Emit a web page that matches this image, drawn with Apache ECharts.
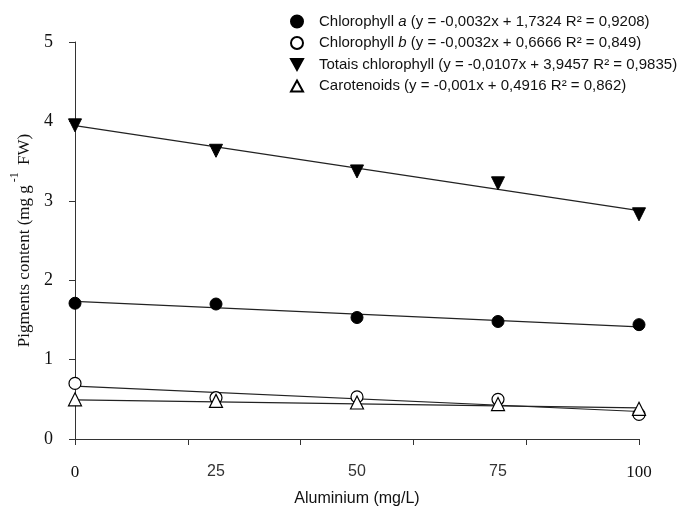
<!DOCTYPE html>
<html><head><meta charset="utf-8">
<script src="https://cdn.jsdelivr.net/npm/echarts@6/dist/echarts.min.js"></script>
<style>html,body{margin:0;padding:0;background:#fff}#c{width:684px;height:512px}</style>
</head><body><div id="c"></div>
<script>
var xValues = [0, 25, 50, 75, 100];
var chlA = [1.71, 1.70, 1.53, 1.48, 1.44];
var chlB = [0.70, 0.52, 0.53, 0.50, 0.31];
var totalChl = [3.95, 3.63, 3.37, 3.22, 2.83];
var carot = [0.50, 0.48, 0.46, 0.44, 0.38];
var seriesNames = ['Chlorophyll a', 'Chlorophyll b', 'Totais chlorophyll', 'Carotenoids'];
var equations = ['(y = -0,0032x + 1,7324 R² = 0,9208)', '(y = -0,0032x + 0,6666 R² = 0,849)', '(y = -0,0107x + 3,9457 R² = 0,9835)', '(y = -0,001x + 0,4916 R² = 0,862)'];
var slopes = [-0.0032, -0.0032, -0.0107, -0.001];
var intercepts = [1.7324, 0.6666, 3.9457, 0.4916];
var trendX = [0, 100];
var yTicks = [0, 1, 2, 3, 4, 5];
var xLabelValues = [0, 25, 50, 75, 100];

function pts(arr){ return xValues.map(function(x,i){ return [x, arr[i]]; }); }
function trend(i){ return trendX.map(function(x){ return [x, +(intercepts[i] + slopes[i]*x).toFixed(4)]; }); }

var downTri = 'path://M0,0 L10,0 L5,9 Z';
var upTri = 'path://M5,0 L10,9 L0,9 Z';
var datasets = [chlA, chlB, totalChl, carot];
var styles = [
  {symbol:'circle', size:12, icon:'circle', itemStyle:{color:'#000', borderColor:'#000', borderWidth:1, opacity:1}},
  {symbol:'circle', size:12, icon:'circle', itemStyle:{color:'#fff', borderColor:'#000', borderWidth:1.2, opacity:1}},
  {symbol:downTri, size:13, icon:downTri, itemStyle:{color:'#000', borderColor:'#000', borderWidth:1, opacity:1}},
  {symbol:upTri, size:13, icon:upTri, itemStyle:{color:'#fff', borderColor:'#000', borderWidth:1.2, opacity:1}}
];

var series = [];
datasets.forEach(function(d,i){
  series.push({type:'line', data: trend(i), symbol:'none', silent:true, z:1,
    lineStyle:{color:'#222', width:1.2}});
});
datasets.forEach(function(d,i){
  var s = styles[i];
  series.push({type:'scatter', name: seriesNames[i], data: pts(d), symbol:s.symbol,
    symbolSize:s.size, itemStyle:s.itemStyle, z:3});
});

var font = 'Liberation Sans, Arial, sans-serif';
var chart = echarts.init(document.getElementById('c'));
chart.setOption({
  animation:false,
  backgroundColor:'#fff',
  grid:{left:75, right:45, top:42, bottom:67},
  legend:{
    orient:'vertical', left:290, top:14, padding:0, itemWidth:12, itemHeight:12, itemGap:6.5,
    data: seriesNames.map(function(n,i){ return {name:n, icon:styles[i].icon}; }),
    formatter:function(name){
      var i = seriesNames.indexOf(name);
      var parts = name.split(' ');
      var last = parts[parts.length-1];
      if (last === 'a' || last === 'b') {
        return '{f|' + parts.slice(0,-1).join(' ') + ' }{i|' + last + '}{n| ' + equations[i] + '}';
      }
      return '{f|' + name + ' ' + equations[i] + '}';
    },
    textStyle:{
      rich:{
        f:{fontFamily:font, fontSize:15, color:'#111', lineHeight:18, padding:[0,0,0,11]},
        n:{fontFamily:font, fontSize:15, color:'#111', lineHeight:18},
        i:{fontFamily:font, fontSize:15, color:'#111', lineHeight:18, fontStyle:'italic'}
      }
    }
  },
  xAxis:[{
    type:'value', min:0, max:100, interval:20,
    axisLine:{show:true, lineStyle:{color:'#333', width:1}},
    axisTick:{show:true, inside:false, length:6, lineStyle:{color:'#333'}},
    axisLabel:{show:false}, splitLine:{show:false},
    name:'Aluminium (mg/L)', nameLocation:'middle', nameGap:52,
    nameTextStyle:{fontFamily:font, fontSize:16, color:'#111'}
  },{
    type:'value', min:0, max:100, interval:25, position:'bottom',
    axisLine:{show:false}, axisTick:{show:false}, splitLine:{show:false},
    axisLabel:{show:true, margin:25,
      formatter:function(v){
        if (xLabelValues.indexOf(v) < 0) return '';
        if (v === 0 || v === 100) return '{s|' + v + '}';
        return '{a|' + v + '}';
      },
      rich:{
        s:{fontFamily:'Liberation Serif, Times New Roman, serif', fontSize:17, color:'#111'},
        a:{fontFamily:font, fontSize:16, color:'#333'}
      }
    }
  }],
  yAxis:{
    type:'value', min:0, max:5, interval:1,
    axisLine:{show:true, lineStyle:{color:'#333', width:1}},
    axisTick:{show:true, inside:false, length:6, lineStyle:{color:'#333'}},
    splitLine:{show:false},
    axisLabel:{margin:22, fontFamily:'Liberation Serif, Times New Roman, serif', fontSize:18, color:'#111',
      formatter:function(v){ return yTicks.indexOf(v) >= 0 ? String(v) : ''; }},
    name:'{t|Pigments content (mg g}{s|-1}{t| FW)}', nameLocation:'middle', nameGap:42, nameRotate:90,
    nameTextStyle:{
      rich:{
        t:{fontFamily:'Liberation Serif, Times New Roman, serif', fontSize:17, color:'#111', verticalAlign:'bottom', lineHeight:24},
        s:{fontFamily:'Liberation Serif, Times New Roman, serif', fontSize:12, color:'#111', verticalAlign:'top', lineHeight:24, padding:[0,3,8,3]}
      }
    }
  },
  series: series
});
</script></body></html>
